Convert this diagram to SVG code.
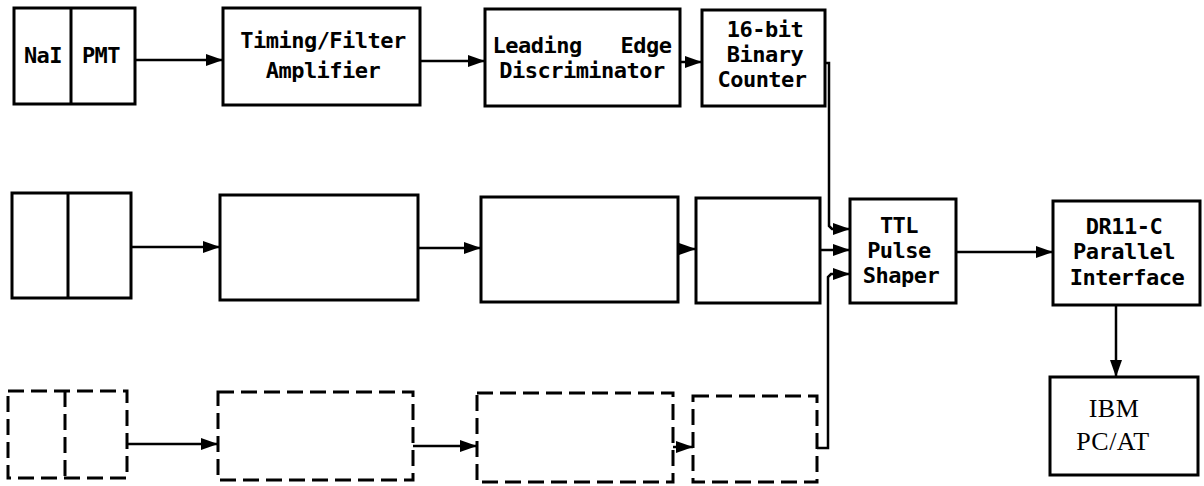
<svg xmlns="http://www.w3.org/2000/svg" width="1204" height="486" viewBox="0 0 1204 486">
<style>
.box{fill:#fff;stroke:#000;stroke-width:3}
.dash{fill:#fff;stroke:#000;stroke-width:3;stroke-dasharray:16 7}
.div{stroke:#000;stroke-width:3}
.ddiv{stroke:#000;stroke-width:3;stroke-dasharray:16 7}
.lbl{font-family:"DejaVu Sans Mono","Liberation Mono",monospace;font-weight:bold;font-size:22px;letter-spacing:-0.5px;fill:#000;text-anchor:middle}
.ser{font-family:"Liberation Serif","DejaVu Serif",serif;font-size:26px;letter-spacing:0.5px;fill:#000;text-anchor:middle}
.con{fill:none;stroke:#000;stroke-width:2.5;marker-end:url(#ah)}
</style>
<defs>
<marker id="ah" markerUnits="userSpaceOnUse" markerWidth="18" markerHeight="14" refX="17" refY="6" orient="auto">
<path d="M0,0 L17,6 L0,12 z" fill="#000"/>
</marker>
</defs>
<rect width="1204" height="486" fill="#fff"/>

<g id="connectors">
<path class="con" d="M135,60 H223"/>
<path class="con" d="M420,61 H485"/>
<path class="con" d="M680,62 H702"/>
<path class="con" d="M131,247 H220"/>
<path class="con" d="M418,248 H481"/>
<path class="con" d="M678,249 H696"/>
<path class="con" d="M127,444 H218"/>
<path class="con" d="M413,446 H477"/>
<path class="con" d="M673,447 H693"/>
<path class="con" d="M825,63 H829 V226 L832,229 H850"/>
<path class="con" d="M820,250 H850"/>
<path class="con" d="M817,448 H828 V277 L831,274 H850"/>
<path class="con" d="M956,252 H1053"/>
<path class="con" d="M1116,305 V377"/>
</g>

<g id="nai-pmt-1">
<rect class="box" x="14" y="8" width="121" height="96"/>
<line class="div" x1="71" y1="8" x2="71" y2="104"/>
<text class="lbl" x="43" y="63">NaI</text>
<text class="lbl" x="101" y="63">PMT</text>
</g>
<g id="amp-1">
<rect class="box" x="223" y="8" width="197" height="97"/>
<text class="lbl" x="323" y="48">Timing/Filter</text>
<text class="lbl" x="323" y="78">Amplifier</text>
</g>
<g id="disc-1">
<rect class="box" x="485" y="9" width="195" height="97"/>
<text class="lbl" x="582" y="53" word-spacing="26">Leading Edge</text>
<text class="lbl" x="582" y="78">Discriminator</text>
</g>
<g id="counter-1">
<rect class="box" x="702" y="10" width="123" height="96"/>
<text class="lbl" x="765" y="37">16-bit</text>
<text class="lbl" x="765" y="62">Binary</text>
<text class="lbl" x="762" y="87">Counter</text>
</g>

<g id="nai-pmt-2">
<rect class="box" x="12" y="193" width="119" height="105"/>
<line class="div" x1="68" y1="193" x2="68" y2="298"/>
</g>
<g id="amp-2"><rect class="box" x="220" y="195" width="198" height="105"/></g>
<g id="disc-2"><rect class="box" x="481" y="197" width="197" height="105"/></g>
<g id="counter-2"><rect class="box" x="696" y="198" width="124" height="105"/></g>

<g id="nai-pmt-3">
<rect class="dash" x="8" y="391" width="119" height="87"/>
<line class="ddiv" x1="65" y1="391" x2="65" y2="478"/>
</g>
<g id="amp-3"><rect class="dash" x="218" y="392" width="195" height="88"/></g>
<g id="disc-3"><rect class="dash" x="477" y="393" width="196" height="89"/></g>
<g id="counter-3"><rect class="dash" x="693" y="396" width="124" height="86"/></g>

<g id="ttl">
<rect class="box" x="850" y="199" width="106" height="104"/>
<text class="lbl" x="899" y="233">TTL</text>
<text class="lbl" x="899" y="258">Pulse</text>
<text class="lbl" x="901" y="283">Shaper</text>
</g>
<g id="dr11c">
<rect class="box" x="1053" y="201" width="147" height="104"/>
<text class="lbl" x="1124" y="234">DR11-C</text>
<text class="lbl" x="1124" y="259">Parallel</text>
<text class="lbl" x="1127" y="285">Interface</text>
</g>
<g id="ibm">
<rect class="box" x="1050" y="377" width="148" height="98"/>
<text class="ser" x="1114" y="417">IBM</text>
<text class="ser" x="1113" y="450">PC/AT</text>
</g>
</svg>
